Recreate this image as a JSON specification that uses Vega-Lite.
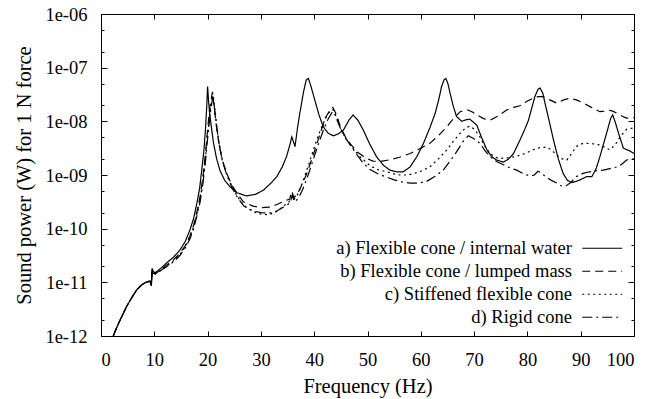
{
"$schema": "https://vega.github.io/schema/vega-lite/v6.json",
"width": 533, "height": 322,
"autosize": {"type": "none"},
"padding": {"left": 101, "top": 14, "right": 20, "bottom": 63},
"background": "white",
"config": {
  "view": {"stroke": "black", "strokeWidth": 1},
  "font": "Liberation Serif, Times New Roman, serif",
  "axis": {"labelFont": "Liberation Serif, Times New Roman, serif", "titleFont": "Liberation Serif, Times New Roman, serif", "labelColor": "black", "titleColor": "black", "tickColor": "black", "tickWidth": 1, "grid": false, "domain": false, "titleFontWeight": "normal", "labelFontSize": 18.5, "titleFontSize": 20.5}
},
"data": {"values": [
{"s":"a","f":2.3,"p":1e-12},{"s":"a","f":3,"p":1.479e-12},{"s":"a","f":3.6,"p":1.995e-12},{"s":"a","f":4.8,"p":3.548e-12},{"s":"a","f":5.8,"p":5.248e-12},{"s":"a","f":6.7,"p":7.244e-12},{"s":"a","f":7.6,"p":8.913e-12},{"s":"a","f":8.6,"p":1.023e-11},{"s":"a","f":9.2,"p":1.047e-11},{"s":"a","f":9.45,"p":8.71e-12},{"s":"a","f":9.6,"p":1.82e-11},{"s":"a","f":9.8,"p":1.585e-11},{"s":"a","f":10.2,"p":1.514e-11},{"s":"a","f":11.2,"p":1.82e-11},{"s":"a","f":12.3,"p":2.291e-11},{"s":"a","f":13.6,"p":2.951e-11},{"s":"a","f":14.8,"p":3.981e-11},{"s":"a","f":15.8,"p":5.754e-11},{"s":"a","f":16.7,"p":9.55e-11},{"s":"a","f":17.4,"p":1.585e-10},{"s":"a","f":18,"p":3.02e-10},{"s":"a","f":18.5,"p":5.623e-10},{"s":"a","f":18.9,"p":1.23e-9},{"s":"a","f":19.3,"p":2.818e-9},{"s":"a","f":19.6,"p":7.079e-9},{"s":"a","f":19.85,"p":1.995e-8},{"s":"a","f":20,"p":4.467e-8},{"s":"a","f":20.2,"p":2.239e-8},{"s":"a","f":20.45,"p":1.23e-8},{"s":"a","f":20.8,"p":6.607e-9},{"s":"a","f":21.1,"p":3.981e-9},{"s":"a","f":21.7,"p":1.995e-9},{"s":"a","f":22.3,"p":1.23e-9},{"s":"a","f":23.2,"p":7.943e-10},{"s":"a","f":24.2,"p":6.026e-10},{"s":"a","f":25.5,"p":4.677e-10},{"s":"a","f":27.3,"p":4.074e-10},{"s":"a","f":29,"p":4.365e-10},{"s":"a","f":30.5,"p":5.248e-10},{"s":"a","f":32,"p":7.244e-10},{"s":"a","f":33,"p":9.333e-10},{"s":"a","f":34,"p":1.413e-9},{"s":"a","f":34.8,"p":2.188e-9},{"s":"a","f":35.4,"p":3.548e-9},{"s":"a","f":35.8,"p":5.129e-9},{"s":"a","f":36.4,"p":3.388e-9},{"s":"a","f":36.9,"p":7.943e-9},{"s":"a","f":37.3,"p":1.413e-8},{"s":"a","f":38,"p":3.548e-8},{"s":"a","f":38.5,"p":5.888e-8},{"s":"a","f":38.9,"p":6.31e-8},{"s":"a","f":39.4,"p":4.467e-8},{"s":"a","f":40.1,"p":2.512e-8},{"s":"a","f":40.9,"p":1.318e-8},{"s":"a","f":41.7,"p":7.943e-9},{"s":"a","f":42.6,"p":6.026e-9},{"s":"a","f":43.6,"p":5.37e-9},{"s":"a","f":44.6,"p":5.888e-9},{"s":"a","f":45.5,"p":6.918e-9},{"s":"a","f":46.5,"p":1.047e-8},{"s":"a","f":47.3,"p":1.318e-8},{"s":"a","f":48.2,"p":1.047e-8},{"s":"a","f":49.2,"p":6.918e-9},{"s":"a","f":50.4,"p":3.802e-9},{"s":"a","f":51.7,"p":2.188e-9},{"s":"a","f":53,"p":1.514e-9},{"s":"a","f":54.2,"p":1.23e-9},{"s":"a","f":55.5,"p":1.148e-9},{"s":"a","f":56.7,"p":1.148e-9},{"s":"a","f":58,"p":1.413e-9},{"s":"a","f":59.3,"p":2.239e-9},{"s":"a","f":60.5,"p":3.89e-9},{"s":"a","f":61.7,"p":7.586e-9},{"s":"a","f":62.7,"p":1.413e-8},{"s":"a","f":63.4,"p":2.63e-8},{"s":"a","f":63.9,"p":4.467e-8},{"s":"a","f":64.4,"p":6.026e-8},{"s":"a","f":64.7,"p":6.31e-8},{"s":"a","f":65.1,"p":5.012e-8},{"s":"a","f":65.5,"p":3.311e-8},{"s":"a","f":66.1,"p":1.905e-8},{"s":"a","f":66.7,"p":1.23e-8},{"s":"a","f":67.7,"p":1e-8},{"s":"a","f":68.5,"p":1.072e-8},{"s":"a","f":69.2,"p":1.096e-8},{"s":"a","f":70.5,"p":8.511e-9},{"s":"a","f":71.4,"p":5.012e-9},{"s":"a","f":72.4,"p":2.951e-9},{"s":"a","f":73.3,"p":2.188e-9},{"s":"a","f":74.2,"p":1.905e-9},{"s":"a","f":75.5,"p":1.738e-9},{"s":"a","f":76.5,"p":1.995e-9},{"s":"a","f":77.4,"p":2.512e-9},{"s":"a","f":78.6,"p":4.467e-9},{"s":"a","f":79.5,"p":7.079e-9},{"s":"a","f":80.2,"p":1.047e-8},{"s":"a","f":80.8,"p":1.738e-8},{"s":"a","f":81.4,"p":2.884e-8},{"s":"a","f":82,"p":3.981e-8},{"s":"a","f":82.4,"p":4.169e-8},{"s":"a","f":82.9,"p":3.311e-8},{"s":"a","f":83.3,"p":2.188e-8},{"s":"a","f":84.1,"p":1e-8},{"s":"a","f":84.9,"p":4.467e-9},{"s":"a","f":85.8,"p":1.995e-9},{"s":"a","f":86.7,"p":1.072e-9},{"s":"a","f":87.5,"p":7.943e-10},{"s":"a","f":88.3,"p":7.244e-10},{"s":"a","f":89.1,"p":7.586e-10},{"s":"a","f":89.9,"p":8.128e-10},{"s":"a","f":91.1,"p":9.333e-10},{"s":"a","f":92.1,"p":9.333e-10},{"s":"a","f":92.9,"p":1.318e-9},{"s":"a","f":93.6,"p":2.188e-9},{"s":"a","f":94.4,"p":4.169e-9},{"s":"a","f":95.2,"p":7.943e-9},{"s":"a","f":95.6,"p":1.122e-8},{"s":"a","f":96,"p":1.318e-8},{"s":"a","f":96.5,"p":9.55e-9},{"s":"a","f":97.1,"p":6.026e-9},{"s":"a","f":98,"p":3.162e-9},{"s":"a","f":99.2,"p":2.818e-9},{"s":"a","f":100,"p":2.512e-9},
{"s":"b","f":2.3,"p":1e-12},{"s":"b","f":3,"p":1.479e-12},{"s":"b","f":3.6,"p":1.995e-12},{"s":"b","f":4.8,"p":3.548e-12},{"s":"b","f":5.8,"p":5.248e-12},{"s":"b","f":6.7,"p":7.244e-12},{"s":"b","f":7.6,"p":8.913e-12},{"s":"b","f":8.6,"p":1.023e-11},{"s":"b","f":9.2,"p":1.047e-11},{"s":"b","f":9.45,"p":8.71e-12},{"s":"b","f":9.6,"p":1.738e-11},{"s":"b","f":9.8,"p":1.479e-11},{"s":"b","f":10.2,"p":1.445e-11},{"s":"b","f":11.2,"p":1.698e-11},{"s":"b","f":12.3,"p":2.089e-11},{"s":"b","f":13.6,"p":2.63e-11},{"s":"b","f":14.8,"p":3.467e-11},{"s":"b","f":15.8,"p":4.786e-11},{"s":"b","f":16.7,"p":7.413e-11},{"s":"b","f":17.4,"p":1.175e-10},{"s":"b","f":18,"p":2.089e-10},{"s":"b","f":18.6,"p":3.981e-10},{"s":"b","f":19.1,"p":8.913e-10},{"s":"b","f":19.6,"p":2.512e-9},{"s":"b","f":20,"p":7.079e-9},{"s":"b","f":20.4,"p":1.778e-8},{"s":"b","f":20.9,"p":3.548e-8},{"s":"b","f":21.2,"p":1.995e-8},{"s":"b","f":21.6,"p":8.913e-9},{"s":"b","f":22.1,"p":3.981e-9},{"s":"b","f":22.7,"p":1.995e-9},{"s":"b","f":23.5,"p":1.122e-9},{"s":"b","f":24.5,"p":6.607e-10},{"s":"b","f":25.5,"p":4.571e-10},{"s":"b","f":26.7,"p":3.162e-10},{"s":"b","f":28.5,"p":2.63e-10},{"s":"b","f":30,"p":2.455e-10},{"s":"b","f":31.5,"p":2.512e-10},{"s":"b","f":33,"p":2.818e-10},{"s":"b","f":34.5,"p":3.311e-10},{"s":"b","f":35.4,"p":3.548e-10},{"s":"b","f":35.8,"p":5.012e-10},{"s":"b","f":36.2,"p":3.802e-10},{"s":"b","f":36.8,"p":4.365e-10},{"s":"b","f":37.5,"p":6.026e-10},{"s":"b","f":38.5,"p":1e-9},{"s":"b","f":39.5,"p":1.905e-9},{"s":"b","f":40.5,"p":3.802e-9},{"s":"b","f":41.3,"p":6.761e-9},{"s":"b","f":42.2,"p":1.202e-8},{"s":"b","f":43,"p":1.66e-8},{"s":"b","f":43.5,"p":1.82e-8},{"s":"b","f":44.2,"p":1.318e-8},{"s":"b","f":44.9,"p":7.943e-9},{"s":"b","f":45.8,"p":5.248e-9},{"s":"b","f":46.7,"p":3.89e-9},{"s":"b","f":48.2,"p":2.63e-9},{"s":"b","f":49.8,"p":2.042e-9},{"s":"b","f":51,"p":1.82e-9},{"s":"b","f":52.3,"p":1.778e-9},{"s":"b","f":54,"p":1.905e-9},{"s":"b","f":56,"p":2.138e-9},{"s":"b","f":58,"p":2.512e-9},{"s":"b","f":60,"p":3.162e-9},{"s":"b","f":61.7,"p":3.89e-9},{"s":"b","f":63.3,"p":5.37e-9},{"s":"b","f":64.9,"p":7.943e-9},{"s":"b","f":66.2,"p":1.148e-8},{"s":"b","f":67.4,"p":1.514e-8},{"s":"b","f":68.6,"p":1.66e-8},{"s":"b","f":69.6,"p":1.514e-8},{"s":"b","f":70.5,"p":1.318e-8},{"s":"b","f":71.8,"p":1.122e-8},{"s":"b","f":73,"p":1.047e-8},{"s":"b","f":74.5,"p":1.259e-8},{"s":"b","f":76.1,"p":1.622e-8},{"s":"b","f":77.4,"p":1.82e-8},{"s":"b","f":78.6,"p":1.95e-8},{"s":"b","f":80,"p":2.399e-8},{"s":"b","f":81.1,"p":2.692e-8},{"s":"b","f":82,"p":2.884e-8},{"s":"b","f":83,"p":2.884e-8},{"s":"b","f":84.2,"p":2.512e-8},{"s":"b","f":85.5,"p":2.188e-8},{"s":"b","f":86.8,"p":2.512e-8},{"s":"b","f":88,"p":2.692e-8},{"s":"b","f":89.2,"p":2.512e-8},{"s":"b","f":90.5,"p":2.188e-8},{"s":"b","f":92,"p":1.82e-8},{"s":"b","f":93.6,"p":1.514e-8},{"s":"b","f":94.4,"p":1.549e-8},{"s":"b","f":95.2,"p":1.622e-8},{"s":"b","f":96,"p":1.549e-8},{"s":"b","f":96.8,"p":1.413e-8},{"s":"b","f":97.7,"p":1.259e-8},{"s":"b","f":98.6,"p":1.148e-8},{"s":"b","f":100,"p":1.175e-8},
{"s":"c","f":2.3,"p":1e-12},{"s":"c","f":3,"p":1.479e-12},{"s":"c","f":3.6,"p":1.995e-12},{"s":"c","f":4.8,"p":3.548e-12},{"s":"c","f":5.8,"p":5.248e-12},{"s":"c","f":6.7,"p":7.244e-12},{"s":"c","f":7.6,"p":8.913e-12},{"s":"c","f":8.6,"p":1.023e-11},{"s":"c","f":9.2,"p":1.047e-11},{"s":"c","f":9.45,"p":8.71e-12},{"s":"c","f":9.6,"p":1.738e-11},{"s":"c","f":9.8,"p":1.479e-11},{"s":"c","f":10.2,"p":1.445e-11},{"s":"c","f":11.2,"p":1.66e-11},{"s":"c","f":12.3,"p":1.995e-11},{"s":"c","f":13.6,"p":2.512e-11},{"s":"c","f":14.8,"p":3.311e-11},{"s":"c","f":15.8,"p":4.571e-11},{"s":"c","f":16.7,"p":6.918e-11},{"s":"c","f":17.4,"p":1.096e-10},{"s":"c","f":18,"p":1.905e-10},{"s":"c","f":18.6,"p":3.548e-10},{"s":"c","f":19.1,"p":7.586e-10},{"s":"c","f":19.6,"p":2.089e-9},{"s":"c","f":20,"p":5.623e-9},{"s":"c","f":20.5,"p":1.585e-8},{"s":"c","f":21,"p":3.388e-8},{"s":"c","f":21.3,"p":1.905e-8},{"s":"c","f":21.7,"p":8.318e-9},{"s":"c","f":22.2,"p":3.715e-9},{"s":"c","f":22.8,"p":1.862e-9},{"s":"c","f":23.6,"p":1.047e-9},{"s":"c","f":24.6,"p":6.026e-10},{"s":"c","f":25.6,"p":3.981e-10},{"s":"c","f":26.8,"p":2.692e-10},{"s":"c","f":28.5,"p":2.089e-10},{"s":"c","f":30,"p":1.862e-10},{"s":"c","f":31.5,"p":1.82e-10},{"s":"c","f":33,"p":2.089e-10},{"s":"c","f":34.5,"p":2.754e-10},{"s":"c","f":35.3,"p":3.162e-10},{"s":"c","f":35.7,"p":4.467e-10},{"s":"c","f":36.1,"p":3.388e-10},{"s":"c","f":36.7,"p":3.981e-10},{"s":"c","f":37.4,"p":5.623e-10},{"s":"c","f":38.3,"p":1e-9},{"s":"c","f":39.3,"p":1.995e-9},{"s":"c","f":40.3,"p":3.981e-9},{"s":"c","f":41.2,"p":7.079e-9},{"s":"c","f":42.2,"p":1.175e-8},{"s":"c","f":43,"p":1.585e-8},{"s":"c","f":43.5,"p":1.66e-8},{"s":"c","f":44.2,"p":1.202e-8},{"s":"c","f":44.9,"p":7.586e-9},{"s":"c","f":45.8,"p":5.012e-9},{"s":"c","f":46.7,"p":3.715e-9},{"s":"c","f":48.5,"p":2.239e-9},{"s":"c","f":50.5,"p":1.479e-9},{"s":"c","f":52,"p":1.259e-9},{"s":"c","f":53.6,"p":1.148e-9},{"s":"c","f":55,"p":1.047e-9},{"s":"c","f":56.1,"p":1e-9},{"s":"c","f":57.4,"p":1e-9},{"s":"c","f":58.5,"p":1.047e-9},{"s":"c","f":60,"p":1.175e-9},{"s":"c","f":61.7,"p":1.413e-9},{"s":"c","f":63.3,"p":1.995e-9},{"s":"c","f":64.9,"p":2.951e-9},{"s":"c","f":66.2,"p":4.365e-9},{"s":"c","f":67.4,"p":6.026e-9},{"s":"c","f":68.4,"p":7.586e-9},{"s":"c","f":69.2,"p":8.128e-9},{"s":"c","f":70.1,"p":7.079e-9},{"s":"c","f":71.1,"p":5.129e-9},{"s":"c","f":72,"p":3.467e-9},{"s":"c","f":73,"p":2.512e-9},{"s":"c","f":74,"p":2.138e-9},{"s":"c","f":74.9,"p":2.042e-9},{"s":"c","f":76.5,"p":2.089e-9},{"s":"c","f":78,"p":2.239e-9},{"s":"c","f":79.5,"p":2.512e-9},{"s":"c","f":81.1,"p":2.951e-9},{"s":"c","f":82.4,"p":3.236e-9},{"s":"c","f":83.6,"p":3.311e-9},{"s":"c","f":84.6,"p":2.884e-9},{"s":"c","f":85.5,"p":2.344e-9},{"s":"c","f":86.5,"p":1.995e-9},{"s":"c","f":87.4,"p":1.905e-9},{"s":"c","f":88.3,"p":2.512e-9},{"s":"c","f":89.2,"p":3.388e-9},{"s":"c","f":90.1,"p":3.802e-9},{"s":"c","f":91.1,"p":3.89e-9},{"s":"c","f":92.4,"p":3.802e-9},{"s":"c","f":93.6,"p":3.631e-9},{"s":"c","f":94.6,"p":3.236e-9},{"s":"c","f":95.5,"p":2.951e-9},{"s":"c","f":96.5,"p":3.715e-9},{"s":"c","f":97.4,"p":5.129e-9},{"s":"c","f":98.6,"p":7.079e-9},{"s":"c","f":100,"p":7.586e-9},
{"s":"d","f":2.3,"p":1e-12},{"s":"d","f":3,"p":1.479e-12},{"s":"d","f":3.6,"p":1.995e-12},{"s":"d","f":4.8,"p":3.548e-12},{"s":"d","f":5.8,"p":5.248e-12},{"s":"d","f":6.7,"p":7.244e-12},{"s":"d","f":7.6,"p":8.913e-12},{"s":"d","f":8.6,"p":1.023e-11},{"s":"d","f":9.2,"p":1.047e-11},{"s":"d","f":9.45,"p":8.71e-12},{"s":"d","f":9.6,"p":1.738e-11},{"s":"d","f":9.8,"p":1.479e-11},{"s":"d","f":10.2,"p":1.445e-11},{"s":"d","f":11.2,"p":1.66e-11},{"s":"d","f":12.3,"p":1.95e-11},{"s":"d","f":13.6,"p":2.399e-11},{"s":"d","f":14.8,"p":3.162e-11},{"s":"d","f":15.8,"p":4.365e-11},{"s":"d","f":16.7,"p":6.457e-11},{"s":"d","f":17.4,"p":1.023e-10},{"s":"d","f":18,"p":1.738e-10},{"s":"d","f":18.6,"p":3.162e-10},{"s":"d","f":19.1,"p":6.607e-10},{"s":"d","f":19.6,"p":1.778e-9},{"s":"d","f":20,"p":4.786e-9},{"s":"d","f":20.5,"p":1.413e-8},{"s":"d","f":21,"p":3.02e-8},{"s":"d","f":21.3,"p":1.738e-8},{"s":"d","f":21.7,"p":7.943e-9},{"s":"d","f":22.2,"p":3.548e-9},{"s":"d","f":22.8,"p":1.778e-9},{"s":"d","f":23.6,"p":1e-9},{"s":"d","f":24.6,"p":5.754e-10},{"s":"d","f":25.6,"p":3.802e-10},{"s":"d","f":26.8,"p":2.63e-10},{"s":"d","f":28.5,"p":2.138e-10},{"s":"d","f":30,"p":1.995e-10},{"s":"d","f":31.5,"p":1.95e-10},{"s":"d","f":33,"p":2.138e-10},{"s":"d","f":34.5,"p":2.63e-10},{"s":"d","f":35.5,"p":3.02e-10},{"s":"d","f":35.9,"p":4.169e-10},{"s":"d","f":36.3,"p":3.162e-10},{"s":"d","f":37,"p":3.631e-10},{"s":"d","f":37.8,"p":5.248e-10},{"s":"d","f":38.8,"p":9.55e-10},{"s":"d","f":39.8,"p":1.905e-9},{"s":"d","f":40.8,"p":3.802e-9},{"s":"d","f":41.7,"p":6.761e-9},{"s":"d","f":42.6,"p":1.096e-8},{"s":"d","f":43.3,"p":1.445e-8},{"s":"d","f":43.7,"p":1.514e-8},{"s":"d","f":44.3,"p":1.047e-8},{"s":"d","f":45,"p":7.079e-9},{"s":"d","f":45.8,"p":5.012e-9},{"s":"d","f":46.7,"p":3.715e-9},{"s":"d","f":48,"p":2.399e-9},{"s":"d","f":49.2,"p":1.66e-9},{"s":"d","f":50.5,"p":1.259e-9},{"s":"d","f":52,"p":1.047e-9},{"s":"d","f":53.6,"p":9.12e-10},{"s":"d","f":55,"p":8.128e-10},{"s":"d","f":56.5,"p":7.413e-10},{"s":"d","f":58,"p":7.079e-10},{"s":"d","f":59.5,"p":7.079e-10},{"s":"d","f":61.1,"p":7.586e-10},{"s":"d","f":62.6,"p":9.333e-10},{"s":"d","f":64.2,"p":1.23e-9},{"s":"d","f":65.5,"p":1.82e-9},{"s":"d","f":66.7,"p":2.692e-9},{"s":"d","f":67.9,"p":4.169e-9},{"s":"d","f":68.9,"p":5.37e-9},{"s":"d","f":69.9,"p":4.786e-9},{"s":"d","f":71.1,"p":3.89e-9},{"s":"d","f":72,"p":2.884e-9},{"s":"d","f":73,"p":2.188e-9},{"s":"d","f":74.2,"p":1.778e-9},{"s":"d","f":75.5,"p":1.549e-9},{"s":"d","f":76.8,"p":1.349e-9},{"s":"d","f":78,"p":1.23e-9},{"s":"d","f":79.3,"p":1.047e-9},{"s":"d","f":80.5,"p":9.55e-10},{"s":"d","f":81.3,"p":1e-9},{"s":"d","f":82,"p":1.175e-9},{"s":"d","f":82.6,"p":1.096e-9},{"s":"d","f":83.5,"p":9.12e-10},{"s":"d","f":84.5,"p":7.943e-10},{"s":"d","f":85.5,"p":7.079e-10},{"s":"d","f":86.3,"p":6.31e-10},{"s":"d","f":87,"p":6.026e-10},{"s":"d","f":88,"p":7.079e-10},{"s":"d","f":89.2,"p":9.333e-10},{"s":"d","f":90.4,"p":1.072e-9},{"s":"d","f":91.7,"p":1.148e-9},{"s":"d","f":93,"p":1.202e-9},{"s":"d","f":94.2,"p":1.23e-9},{"s":"d","f":95.5,"p":1.318e-9},{"s":"d","f":96.8,"p":1.413e-9},{"s":"d","f":97.7,"p":1.585e-9},{"s":"d","f":98.6,"p":1.905e-9},{"s":"d","f":100,"p":1.995e-9}
]},
"layer": [
  {
    "mark": {"type": "line", "color": "black", "clip": true},
    "encoding": {
      "x": {"field": "f", "type": "quantitative", "scale": {"domain": [0, 100], "nice": false},
        "axis": {"orient": "bottom", "values": [0,10,20,30,40,50,60,70,80,90,100], "offset": -5, "tickSize": 5, "labelPadding": 14, "title": "Frequency (Hz)", "titlePadding": 8}},
      "y": {"field": "p", "type": "quantitative", "scale": {"type": "log", "domain": [1e-12, 1e-6], "nice": false},
        "axis": {"orient": "left",
          "values": [1e-12,2e-12,5e-12,1e-11,2e-11,5e-11,1e-10,2e-10,5e-10,1e-9,2e-9,5e-9,1e-8,2e-8,5e-8,1e-7,2e-7,5e-7,1e-6],
          "offset": -6, "tickSize": 6,
          "tickDash": {"condition": {"test": "abs(log(datum.value)/LN10 - round(log(datum.value)/LN10)) > 0.05", "value": [0, 3, 3]}, "value": [6, 0]},
          "labelExpr": "abs(log(datum.value)/LN10 - round(log(datum.value)/LN10)) > 0.05 ? '' : '1e-' + (round(-log(datum.value)/LN10) < 10 ? '0' : '') + round(-log(datum.value)/LN10)",
          "labelPadding": 14, "title": "Sound power (W) for 1 N force", "titlePadding": 10}},
      "strokeWidth": {"field": "s", "type": "nominal", "scale": {"domain": ["a","b","c","d"], "range": [1.2, 1.2, 2.2, 1.2]}, "legend": null},
      "strokeDash": {"field": "s", "type": "nominal",
        "scale": {"domain": ["a","b","c","d"], "range": [[1,0],[8,5],[2,3.5],[10,4,2,4]]},
        "legend": {"title": null, "orient": "bottom-right", "offset": 9,
          "labelFont": "Liberation Serif, Times New Roman, serif", "labelFontSize": 18.5, "labelColor": "black", "labelLimit": 0,
          "symbolType": "M-4,0H4", "symbolSize": 100, "symbolStrokeColor": "black", "symbolStrokeWidth": 1.4,
          "rowPadding": 4,
          "labelExpr": "datum.value == 'a' ? 'a) Flexible cone / internal water' : datum.value == 'b' ? 'b) Flexible cone / lumped mass' : datum.value == 'c' ? 'c) Stiffened flexible cone' : 'd) Rigid cone'",
          "encode": {"labels": {"update": {"align": {"value": "right"}, "x": {"value": -21}}}}}}
    }
  },
  {
    "mark": {"type": "line", "strokeOpacity": 0},
    "encoding": {
      "x": {"field": "f", "type": "quantitative", "scale": {"domain": [0, 100], "nice": false},
        "axis": {"orient": "top", "values": [0,10,20,30,40,50,60,70,80,90,100], "offset": -5, "tickSize": 5, "labels": false, "title": null}},
      "y": {"field": "p", "type": "quantitative", "scale": {"type": "log", "domain": [1e-12, 1e-6], "nice": false},
        "axis": {"orient": "right",
          "values": [1e-12,2e-12,5e-12,1e-11,2e-11,5e-11,1e-10,2e-10,5e-10,1e-9,2e-9,5e-9,1e-8,2e-8,5e-8,1e-7,2e-7,5e-7,1e-6],
          "offset": -6, "tickSize": 6,
          "tickDash": {"condition": {"test": "abs(log(datum.value)/LN10 - round(log(datum.value)/LN10)) > 0.05", "value": [0, 3, 3]}, "value": [6, 0]},
          "labels": false, "title": null}}
    }
  }
],
"resolve": {"axis": {"x": "independent", "y": "independent"}}
}
